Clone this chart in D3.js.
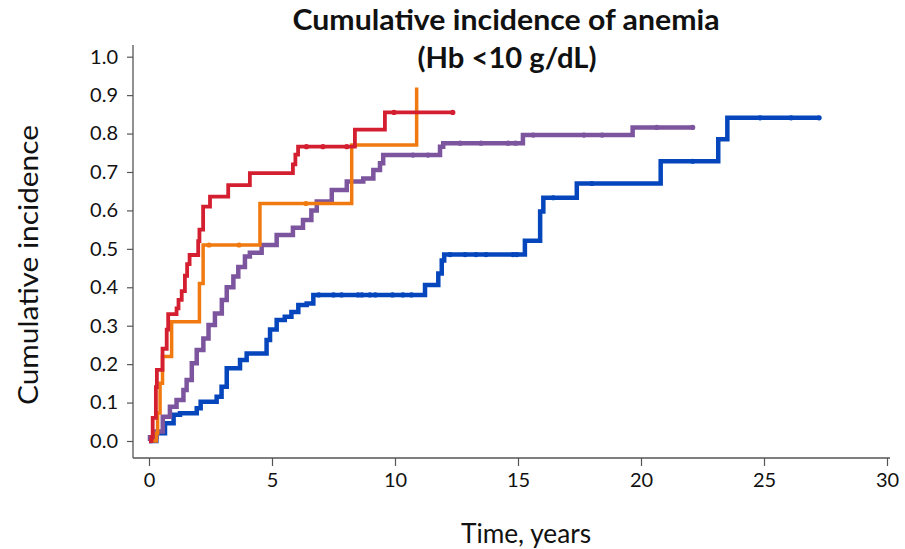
<!DOCTYPE html>
<html>
<head>
<meta charset="utf-8">
<script src="https://cdn.jsdelivr.net/npm/d3@7"></script>
<style>
  body { margin: 0; background: #fff; }
  svg { display: block; font-family: Lato, "Open Sans", sans-serif; }
</style>
</head>
<body>
<svg id="chart" width="905" height="549"></svg>
<script>
// step points [time in years, cumulative incidence]
var redSteps = [[0,0],[0.1,0.01],[0.15,0.06],[0.28,0.14],[0.32,0.185],[0.55,0.24],[0.72,0.29],[0.78,0.33],
    [1.12,0.345],[1.2,0.367],[1.33,0.39],[1.46,0.43],[1.55,0.46],[1.65,0.484],[2.0,0.52],[2.05,0.55],
    [2.2,0.61],[2.48,0.636],[3.22,0.666],[4.1,0.697],[5.85,0.72],[5.95,0.745],[6.06,0.766],[8.37,0.81],
    [9.59,0.855],[12.35,0.855]];
var redCensor = [[6.4,0.766],[7.07,0.766],[8.04,0.766],[9.96,0.855],[12.35,0.855]];

var orangeSteps = [[0,0],[0.3,0.02],[0.35,0.073],[0.45,0.15],[0.55,0.22],[0.92,0.31],[2.05,0.41],
    [2.2,0.51],[4.51,0.618],[8.24,0.77],[10.88,0.92]];
var orangeCensor = [[2.44,0.51],[3.66,0.51],[6.38,0.618]];

var purpleSteps = [[0,0],[0.04,0.01],[0.3,0.025],[0.56,0.063],[0.85,0.089],[1.12,0.107],[1.4,0.133],
    [1.53,0.159],[1.74,0.202],[1.94,0.237],[2.21,0.267],[2.42,0.302],[2.68,0.332],[2.96,0.367],
    [3.16,0.4],[3.43,0.428],[3.63,0.453],[3.9,0.48],[4.1,0.49],[4.58,0.51],[5.19,0.536],[5.85,0.555],
    [6.26,0.575],[6.6,0.6],[6.82,0.623],[7.43,0.653],[8.04,0.675],[8.71,0.683],[9.12,0.705],
    [9.39,0.723],[9.52,0.744],[11.83,0.766],[11.96,0.775],[15.2,0.796],[19.66,0.816],[22.1,0.816]];
var purpleCensor = [[10.73,0.744],[11.34,0.744],[12.65,0.775],[13.5,0.775],[14.6,0.775],[14.9,0.775],
    [15.62,0.796],[17.68,0.796],[18.42,0.796],[20.64,0.816],[22.1,0.816]];

var blueSteps = [[0,0],[0.3,0.02],[0.65,0.046],[1.0,0.068],[1.26,0.072],[1.94,0.085],[2.1,0.102],
    [2.75,0.115],[2.95,0.141],[3.16,0.189],[3.7,0.211],[3.97,0.228],[4.78,0.263],[4.92,0.29],
    [5.19,0.315],[5.52,0.323],[5.79,0.336],[6.07,0.354],[6.41,0.358],[6.68,0.38],[11.22,0.406],
    [11.76,0.436],[11.9,0.47],[12.0,0.485],[15.28,0.521],[15.9,0.597],[16.03,0.633],[17.39,0.67],
    [20.8,0.728],[23.14,0.785],[23.51,0.841],[27.24,0.841]];
var blueCensor = [[6.9,0.38],[7.5,0.38],[7.83,0.38],[8.5,0.38],[8.65,0.38],[8.98,0.38],[9.2,0.38],
    [9.9,0.38],[10.32,0.38],[10.67,0.38],[12.24,0.485],[12.85,0.485],[13.29,0.485],[13.7,0.485],
    [14.8,0.485],[14.95,0.485],[16.43,0.633],[18.0,0.67],[22.1,0.728],[24.84,0.841],[26.1,0.841],[27.24,0.841]];

var xTicks = [0, 5, 10, 15, 20, 25, 30];
var yTicks = [0, 0.1, 0.2, 0.3, 0.4, 0.5, 0.6, 0.7, 0.8, 0.9, 1.0];

var series = [
    {steps: blueSteps, censor: blueCensor, color: "#0646bd", width: 4.5},
    {steps: purpleSteps, censor: purpleCensor, color: "#7d559e", width: 4.5},
    {steps: orangeSteps, censor: orangeCensor, color: "#f07a10", width: 3.5},
    {steps: redSteps, censor: redCensor, color: "#d41f30", width: 3.8}
];

var svg = d3.select("#chart");

var xScale = d3.scaleLinear().domain([0, 30]).range([149, 887]);
var yScale = d3.scaleLinear().domain([0, 1]).range([441, 56.7]);

// axes
var yAxisX = 133, xAxisY = 458;

var yAxis = svg.append("g")
    .attr("transform", "translate(" + yAxisX + ",0)")
    .call(d3.axisLeft(yScale).tickValues(yTicks).tickFormat(d3.format(".1f")).tickSize(6).tickSizeOuter(0));
yAxis.select(".domain").remove();
yAxis.append("line").attr("x1", 0).attr("x2", 0).attr("y1", 45).attr("y2", xAxisY)
    .attr("stroke", "#555").attr("stroke-width", 1.3);

var xAxis = svg.append("g")
    .attr("transform", "translate(0," + xAxisY + ")")
    .call(d3.axisBottom(xScale).tickValues(xTicks).tickSize(8).tickSizeOuter(0));
xAxis.select(".domain").remove();
xAxis.append("line").attr("x1", yAxisX).attr("x2", 890).attr("y1", 0).attr("y2", 0)
    .attr("stroke", "#555").attr("stroke-width", 1.3);

svg.selectAll(".tick line").attr("stroke", "#555").attr("stroke-width", 1.2);
svg.selectAll(".tick text").attr("font-size", 20).attr("fill", "#111")
    .attr("font-family", "Lato, sans-serif");
yAxis.selectAll(".tick text").attr("x", -15);
xAxis.selectAll(".tick text").attr("y", 15);

// curves
var line = d3.line()
    .x(function(d) { return xScale(d[0]); })
    .y(function(d) { return yScale(d[1]); })
    .curve(d3.curveStepAfter);

series.forEach(function(s) {
    var g = svg.append("g");
    g.append("path")
        .datum(s.steps)
        .attr("fill", "none")
        .attr("stroke", s.color)
        .attr("stroke-width", s.width)
        .attr("stroke-linejoin", "miter")
        .attr("d", line);
    g.selectAll("circle")
        .data(s.censor)
        .enter()
        .append("circle")
        .attr("cx", function(d) { return xScale(d[0]); })
        .attr("cy", function(d) { return yScale(d[1]); })
        .attr("r", 2.6)
        .attr("fill", s.color);
});

// titles
svg.append("text").attr("x", 506).attr("y", 30).attr("text-anchor", "middle")
    .attr("font-size", 28).attr("font-weight", "bold").attr("fill", "#111")
    .attr("textLength", 427).attr("lengthAdjust", "spacingAndGlyphs")
    .text("Cumulative incidence of anemia");
svg.append("text").attr("x", 507).attr("y", 68).attr("text-anchor", "middle")
    .attr("font-size", 28).attr("font-weight", "bold").attr("fill", "#111")
    .attr("textLength", 179).attr("lengthAdjust", "spacingAndGlyphs")
    .text("(Hb <10 g/dL)");

svg.append("text").attr("x", 526).attr("y", 543).attr("text-anchor", "middle")
    .attr("font-size", 26).attr("fill", "#111")
    .attr("textLength", 130).attr("lengthAdjust", "spacingAndGlyphs")
    .text("Time, years");

svg.append("text")
    .attr("transform", "translate(38,265) rotate(-90)")
    .attr("text-anchor", "middle")
    .attr("font-size", 27).attr("fill", "#111")
    .attr("textLength", 280).attr("lengthAdjust", "spacingAndGlyphs")
    .text("Cumulative incidence");
</script>
</body>
</html>
